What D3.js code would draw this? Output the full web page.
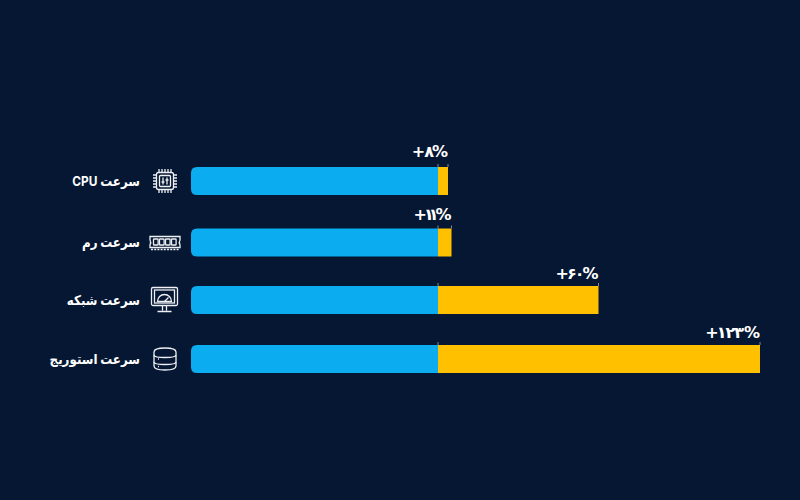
<!DOCTYPE html>
<html lang="fa">
<head>
<meta charset="utf-8">
<script src="https://cdn.jsdelivr.net/npm/d3@7/dist/d3.min.js"></script>
<style>
  html, body { margin: 0; padding: 0; background: #051733; }
  svg { display: block; }
  text { font-family: "Inter", "DejaVu Sans", sans-serif; font-weight: 700; fill: #ffffff; }
  .gain { font-family: "DejaVu Sans", sans-serif; }
</style>
</head>
<body>
<svg id="chart" width="800" height="500"></svg>
<script>
// Speed gain per resource, in percent on top of the baseline
const categories = ["cpu", "ram", "network", "storage"];
const labels = ["سرعت CPU", "سرعت رم", "سرعت شبکه", "سرعت استوریج"];
const gains = [8, 11, 60, 123];
const gainLabels = ["+۸%", "+۱۱%", "+۶۰%", "+۱۲۳%"];
const baseline = [100, 100, 100, 100];

const BLUE = "#0cadf0", GOLD = "#ffc000", ICON = "#eef0f3", TICK = "#7f8794";

const svg = d3.select("#chart");

// The baseline segment is linear; the gain axis is stretched piecewise, as it is not drawn to one ratio.
const xBase = d3.scaleLinear().domain([0, 100]).range([191, 438]);
const xGain = d3.scaleLinear().domain([0, 8, 11, 60, 123]).range([438, 448, 451.5, 598.5, 760]);
const yRow = d3.scaleOrdinal().domain(categories).range([167, 228.5, 286, 345]);
const labelLift = d3.scaleOrdinal().domain(categories).range([10, 9, 7, 7]);
// Per-glyph kerning that tightens the wide Persian numerals
const labelKern = d3.scaleOrdinal().domain(categories)
  .range(["0 -1 -2", "0 -3 -5 -3", "0 -2 -2 -2", "0 -2 -1 -1 0"]);
const barH = 28;

const rows = svg.selectAll("g.row")
  .data(categories.map((c, i) => ({ c, label: labels[i], gain: gains[i], gainLabel: gainLabels[i], base: baseline[i] })))
  .join("g")
  .attr("class", "row")
  .attr("transform", d => `translate(0,${yRow(d.c)})`);

// Blue segment: rounded on the left, square where it meets the gain
rows.append("path")
  .attr("fill", BLUE)
  .attr("d", d => {
    const x0 = xBase(0), x1 = xBase(d.base), r = 6;
    return `M${x0 + r},0H${x1}V${barH}H${x0 + r}Q${x0},${barH} ${x0},${barH - r}V${r}Q${x0},0 ${x0 + r},0Z`;
  });

rows.append("rect")
  .attr("fill", GOLD)
  .attr("x", xGain(0))
  .attr("y", 0)
  .attr("width", d => xGain(d.gain) - xGain(0))
  .attr("height", barH);

// Thin marker lines rising just above the gain segment
rows.selectAll("line.mark")
  .data(d => [0, d.gain])
  .join("line")
  .attr("class", "mark")
  .attr("x1", d => xGain(d)).attr("x2", d => xGain(d))
  .attr("y1", -3).attr("y2", 0)
  .attr("stroke", TICK).attr("stroke-width", 1);

rows.append("text")
  .attr("class", "gain")
  .attr("x", d => xGain(d.gain))
  .attr("y", d => -labelLift(d.c))
  .attr("dx", d => labelKern(d.c))
  .attr("text-anchor", "end")
  .attr("font-size", 16)
  .attr("direction", "ltr")
  .text(d => d.gainLabel);

// Row captions are condensed horizontally around their right edge
rows.append("text")
  .attr("transform", "translate(140,14) scale(0.88,1)")
  .attr("dy", "0.35em")
  .attr("direction", "rtl")
  .attr("text-anchor", "start")
  .attr("font-size", 13.5)
  .text(d => d.label);

// Resource icons, each drawn in its own box centred on the row
const iconG = rows.append("g")
  .attr("transform", "translate(165,14)")
  .attr("fill", "none")
  .attr("stroke", ICON)
  .attr("stroke-width", 1.3);

const icons = {
  cpu(g) {
    g.append("rect").attr("x", -8.5).attr("y", -8.5).attr("width", 17).attr("height", 17).attr("rx", 2);
    g.append("rect").attr("x", -5.5).attr("y", -5.5).attr("width", 11).attr("height", 11).attr("rx", 1);
    d3.range(-6, 7, 3).forEach(p => {
      g.append("path").attr("d", `M${p},-8.5V-12M${p},8.5V12M-8.5,${p}H-12M8.5,${p}H12`);
    });
    g.append("path").attr("d", "M-2,-3.5V3.5M2,-3.5V3.5M-3.5,1H-0.5M0.5,-1H3.5");
  },
  ram(g) {
    g.append("path").attr("d", "M-15,-6H15V-2.5Q13.5,0 15,2.5V5H-15V2.5Q-13.5,0 -15,-2.5Z");
    d3.range(-11.5, 11, 6).forEach(p => {
      g.append("rect").attr("x", p).attr("y", -3.5).attr("width", 4.6).attr("height", 6).attr("rx", 0.6);
    });
    g.append("path").attr("d", "M-14,7H14").attr("stroke-dasharray", "2 1.2");
  },
  network(g) {
    g.attr("transform", "translate(164.5,13.5)");
    g.append("rect").attr("x", -13).attr("y", -12).attr("width", 26).attr("height", 18).attr("rx", 1.5);
    g.append("rect").attr("x", -10).attr("y", -9.5).attr("width", 20).attr("height", 13);
    g.append("path").attr("d", "M-7,2A7,7 0 0 1 7,2Z");
    g.append("path").attr("d", "M0,2L4,-2");
    g.append("path").attr("d", "M-2,6V11M2,6V11M-7,12H7");
  },
  storage(g) {
    g.append("path").attr("d", "M-11,-7Q-11,-11 0,-11Q11,-11 11,-7V7Q11,11 0,11Q-11,11 -11,7Z");
    g.append("path").attr("d", "M-11,-4Q-11,-1.5 0,-1.5Q11,-1.5 11,-4");
    g.append("path").attr("d", "M-11,3Q-11,5.5 0,5.5Q11,5.5 11,3");
    g.append("path").attr("d", "M-7,0H-6M-7,7.5H-6");
  }
};
iconG.each(function (d) { icons[d.c](d3.select(this)); });
</script>
</body>
</html>
